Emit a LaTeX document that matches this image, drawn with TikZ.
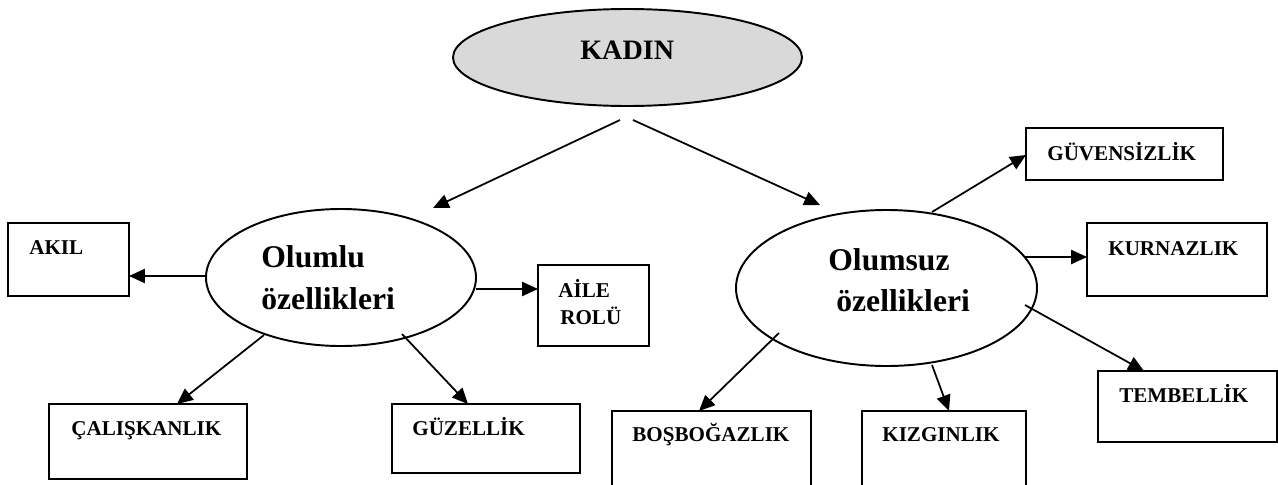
\documentclass[tikz,border=0pt]{standalone}
\usepackage{fontspec}
\setmainfont{Liberation Serif}
\usetikzlibrary{calc,arrows.meta,shapes.geometric}

\tikzset{
  kutu/.style 2 args={draw, line width=1.1pt, rectangle, anchor=north west, inner sep=0pt, outer sep=0pt,
    minimum width=#1*0.02cm, minimum height=#2*0.02cm},
  balon/.style 2 args={draw, line width=1.1pt, ellipse, inner sep=0pt, outer sep=0pt,
    minimum width=#1*0.02cm, minimum height=#2*0.02cm},
  etiket/.style={anchor=base west, inner sep=0pt, font=\bfseries\fontsize{12}{14}\selectfont},
  baslik/.style={anchor=base west, inner sep=0pt, font=\bfseries\fontsize{18}{22}\selectfont},
  ok/.style={-{Triangle[length=9pt,width=8pt]}, line width=1pt},
}

\begin{document}
\begin{tikzpicture}[x=0.02cm, y=-0.02cm]
			%%%%% START %%%%%
			\useasboundingbox (0,0) rectangle (1278,484);
			\clip (0,0) rectangle (1278,484);

			% top
			\node[balon={349}{97}, fill=black!15] (kadin) at (627.5,57.5) {};
			\node[etiket, font=\bfseries\fontsize{16}{19}\selectfont] (kadin-t) at (580,59) {KADIN};

			% olumlu side
			\node[balon={270}{137}] (olumlu) at (341,277.5) {};
			\node[baslik] (olumlu-t1) at (261,267) {Olumlu};
			\node[baslik] (olumlu-t2) at (261,309) {özellikleri};

			\node[kutu={121}{73}] (akil) at (8,223) {};
			\node[etiket] (akil-t) at (29,254) {AKIL};
			\node[kutu={111}{81}] (aile) at (538,265) {};
			\node[etiket] (aile-t1) at (558,297) {AİLE};
			\node[etiket] (aile-t2) at (560,324) {ROLÜ};
			\node[kutu={198}{75}] (calisk) at (49,404) {};
			\node[etiket] (calisk-t) at (71,435) {ÇALIŞKANLIK};
			\node[kutu={188}{69}] (guzel) at (392,404) {};
			\node[etiket] (guzel-t) at (412,435) {GÜZELLİK};

			% olumsuz side
			\node[balon={301}{156}] (olumsuz) at (886.5,288) {};
			\node[baslik] (olumsuz-t1) at (828,270) {Olumsuz};
			\node[baslik] (olumsuz-t2) at (836,311) {özellikleri};

			\node[kutu={197}{52}] (guven) at (1026,128) {};
			\node[etiket] (guven-t) at (1047,160) {GÜVENSİZLİK};
			\node[kutu={180}{73}] (kurnaz) at (1087,223) {};
			\node[etiket] (kurnaz-t) at (1108,255) {KURNAZLIK};
			\node[kutu={179}{71}] (tembel) at (1098,371) {};
			\node[etiket] (tembel-t) at (1119,402) {TEMBELLİK};
			\node[kutu={199}{80}] (bosbog) at (612,411) {};
			\node[etiket] (bosbog-t) at (632,441) {BOŞBOĞAZLIK};
			\node[kutu={164}{80}] (kizgin) at (862,411) {};
			\node[etiket] (kizgin-t) at (882,441) {KIZGINLIK};

			% arrows
			\draw[ok] ($(kadin.south)+(-7.5,14)$) -- ($(olumlu.north)+(92,-1)$);
			\draw[ok] ($(kadin.south)+(5.5,14)$) -- ($(olumsuz.north)+(-66.5,-5)$);

			\draw[ok] ($(olumlu.west)+(0,-1.5)$) coordinate (akil-ucu) -- (akil-ucu -| akil.east);
			\draw[ok] ($(olumlu.east)+(0,11.5)$) coordinate (aile-ucu) -- (aile-ucu -| aile.west);
			\draw[ok] ($(olumlu.south)+(-77,-11)$) -- ($(calisk.north)+(29,0)$);
			\draw[ok] ($(olumlu.south)+(61,-12)$) -- ($(guzel.north)+(-18,0)$);

			\draw[ok] ($(olumsuz.north)+(45.5,2)$) -- ($(guven.west)+(0,1)$);
			\draw[ok] ($(olumsuz.east)+(-12,-31)$) coordinate (kurnaz-ucu) -- (kurnaz-ucu -| kurnaz.west);
			\draw[ok] ($(olumsuz.east)+(-12,17)$) -- ($(tembel.north)+(-43.5,0)$);
			\draw[ok] ($(olumsuz.south)+(-107.5,-33)$) -- ($(bosbog.north)+(-12.5,0)$);
			\draw[ok] ($(olumsuz.south)+(45.5,-1)$) -- ($(kizgin.north)+(5,0)$);
			%%%%% END %%%%%
\end{tikzpicture}
\end{document}
